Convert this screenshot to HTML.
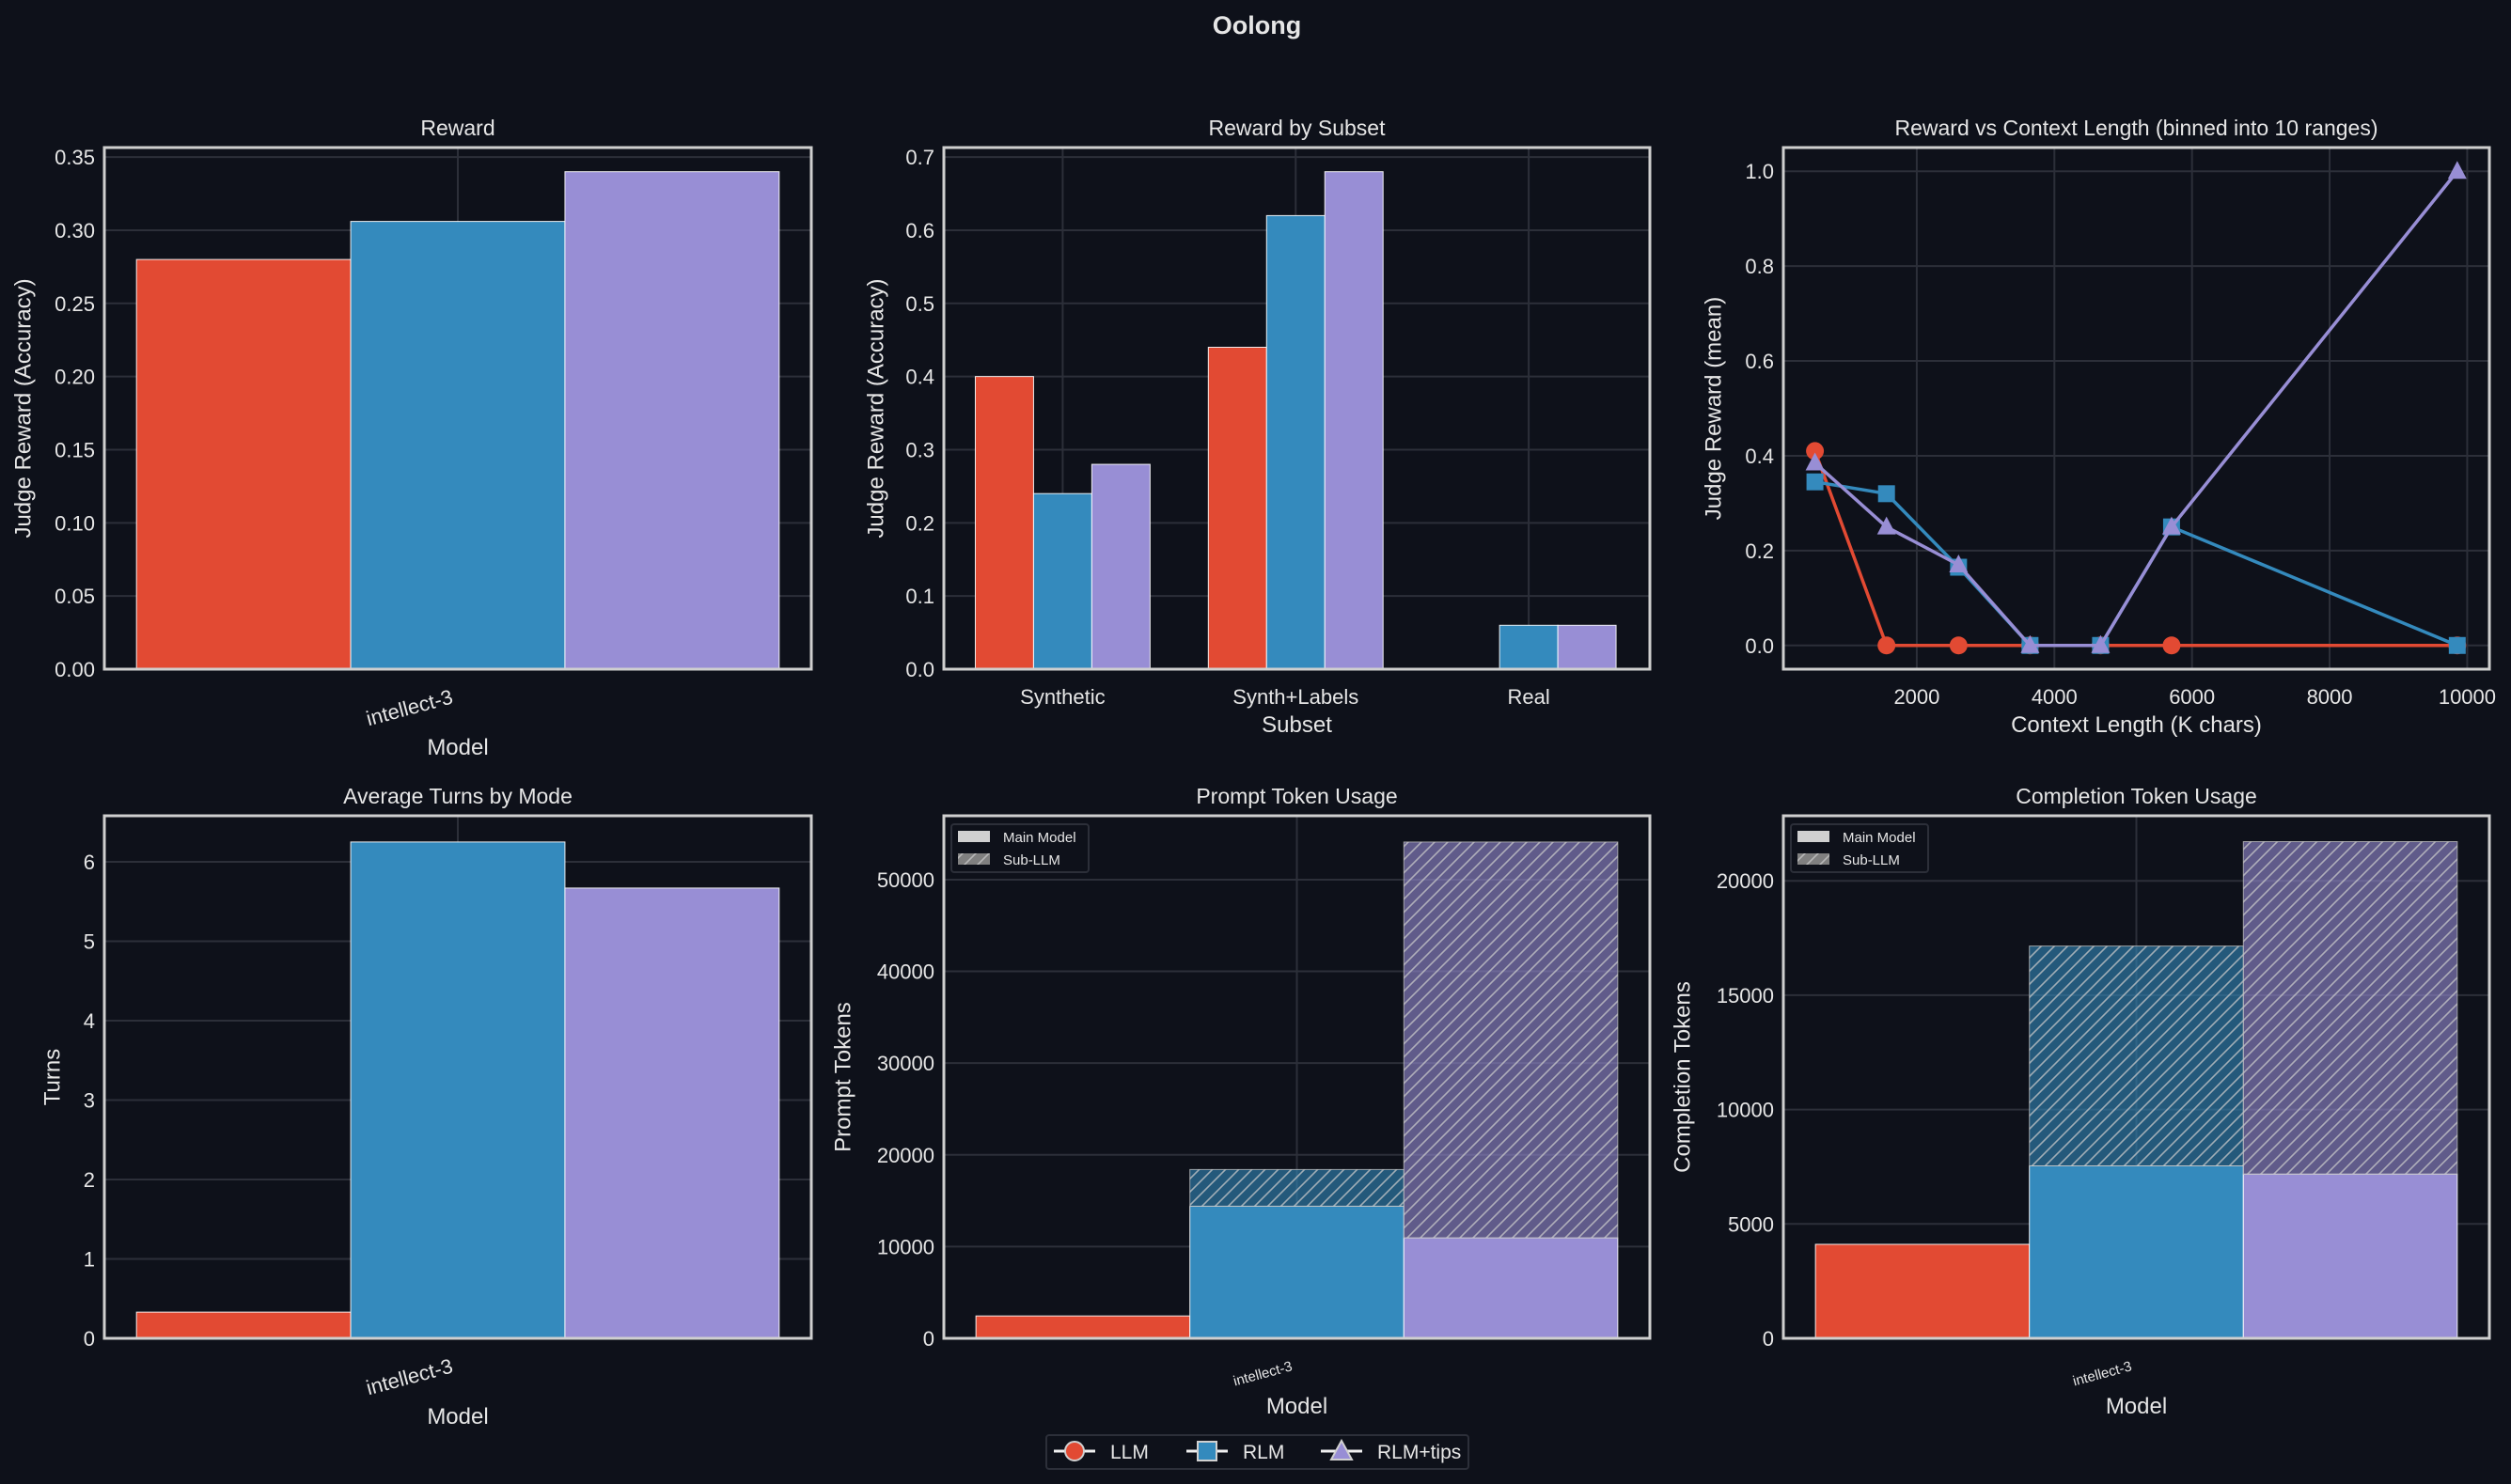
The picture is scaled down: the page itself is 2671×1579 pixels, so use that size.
<!DOCTYPE html>
<html><head><meta charset="utf-8"><style>
html,body{margin:0;padding:0;background:#0e111a;}
svg{display:block;font-family:"Liberation Sans",Arial,sans-serif;}
</style></head><body>
<svg id="fig" width="2671" height="1579" viewBox="0 0 2671 1579" xmlns="http://www.w3.org/2000/svg">
<defs>
<pattern id="hatch" patternUnits="userSpaceOnUse" width="14" height="14">
<path d="M-2,16 L16,-2 M-2,2 L2,-2 M12,16 L16,12" stroke="#c9c9c9" stroke-opacity="0.75" stroke-width="1.6"/>
</pattern>
</defs>
<rect width="2671" height="1579" fill="#0e111a"/>
<text x="1337" y="36" text-anchor="middle" font-size="27" font-weight="bold" fill="#e6e6e6">Oolong</text>
</svg>
<script>
// ---- data ----
const modes = ["LLM", "RLM", "RLM+tips"];
const colors = ["#E24A33", "#348ABD", "#988ED5"];
const rewardValues = [0.28, 0.306, 0.34];
const rewardTicks = [0, 0.05, 0.10, 0.15, 0.20, 0.25, 0.30, 0.35];
const subsets = ["Synthetic", "Synth+Labels", "Real"];
const subsetLLM = [0.40, 0.44, 0.0];
const subsetRLM = [0.24, 0.62, 0.06];
const subsetTips = [0.28, 0.68, 0.06];
const subsetTicks = [0, 0.1, 0.2, 0.3, 0.4, 0.5, 0.6, 0.7];
const ctxX = [520, 1560, 2607, 3646, 4671, 5703, 9855];
const ctxLLM = [0.41, 0, 0, 0, 0, 0, 0];
const ctxRLM = [0.345, 0.32, 0.165, 0, 0, 0.25, 0];
const ctxTips = [0.385, 0.25, 0.17, 0, 0, 0.25, 1.0];
const ctxXTicks = [2000, 4000, 6000, 8000, 10000];
const ctxYTicks = [0.0, 0.2, 0.4, 0.6, 0.8, 1.0];
const turnsValues = [0.33, 6.25, 5.67];
const turnsTicks = [0, 1, 2, 3, 4, 5, 6];
const promptMain = [2440, 14400, 10950];
const promptSub = [0, 4000, 43150];
const promptTicks = [0, 10000, 20000, 30000, 40000, 50000];
const complMain = [4110, 7540, 7180];
const complSub = [0, 9610, 14535];
const complTicks = [0, 5000, 10000, 15000, 20000];

const NS = "http://www.w3.org/2000/svg";
const svg = document.getElementById("fig");
function el(tag, attrs, parent, text) {
  const e = document.createElementNS(NS, tag);
  for (const k in attrs) e.setAttribute(k, attrs[k]);
  if (text !== undefined) e.textContent = text;
  (parent || svg).appendChild(e);
  return e;
}
function lin(d0, d1, r0, r1) { return v => r0 + (v - d0) / (d1 - d0) * (r1 - r0); }

function panel(name, box, xdom, ydom, title, xlabel, ylabel, ylabX, xlabY) {
  const g = el("g", {});
  
  
  const xs = lin(xdom[0], xdom[1], box.l, box.r);
  const ys = lin(ydom[0], ydom[1], box.b, box.t);
  el("rect", {x: box.l, y: box.t, width: box.r - box.l, height: box.b - box.t, fill: "#0e111a"}, g);
  const grid = el("g", {}, g);
  
  
  const marks = el("g", {}, g);
  
  
  const t = el("text", {x: (box.l + box.r) / 2, y: box.t - 13, "text-anchor": "middle", "font-size": 23, fill: "#e6e6e6"}, g, title);
  
  
  const xl = el("text", {x: (box.l + box.r) / 2, y: xlabY, "text-anchor": "middle", "font-size": 24, fill: "#e6e6e6"}, g, xlabel);
  
  
  const cy = (box.t + box.b) / 2;
  const yl = el("text", {x: ylabX, y: cy, "text-anchor": "middle", "font-size": 24, fill: "#e6e6e6", transform: `rotate(-90 ${ylabX} ${cy})`, "dominant-baseline": "central"}, g, ylabel);
  
  
  return {g, grid, marks, xs, ys, box};
}
function yTicks(p, ticks, fmt) {
  ticks.forEach(v => {
    const y = p.ys(v);
    el("line", {x1: p.box.l, x2: p.box.r, y1: y, y2: y, stroke: "#2c2f39", "stroke-width": 2}, p.grid);
    const tx = el("text", {x: p.box.l - 10, y: y + 8, "text-anchor": "end", "font-size": 22, fill: "#e6e6e6"}, p.g, fmt(v));
    
    
  });
}
function xGrid(p, x) {
  el("line", {x1: x, x2: x, y1: p.box.t, y2: p.box.b, stroke: "#2c2f39", "stroke-width": 2}, p.grid);
}
function spine(p) {
  const s = el("rect", {x: p.box.l, y: p.box.t, width: p.box.r - p.box.l, height: p.box.b - p.box.t, fill: "none", stroke: "#cfcfcf", "stroke-width": 3}, p.g);
  
  
}
function bar(p, x0, x1, v0, v1, color, name, hatched) {
  const y0 = p.ys(v0), y1 = p.ys(v1);
  const r = el("rect", {x: p.xs(x0), y: Math.min(y0, y1), width: p.xs(x1) - p.xs(x0), height: Math.abs(y0 - y1), fill: color, stroke: hatched ? "#bdbdbd" : "#ffffff", "stroke-width": 1, "stroke-opacity": hatched ? 0.8 : 0.9, "fill-opacity": hatched ? 0.6 : 1}, p.marks);
  
  
  if (hatched) {
    const h = el("rect", {x: p.xs(x0), y: Math.min(y0, y1), width: p.xs(x1) - p.xs(x0), height: Math.abs(y0 - y1), fill: "url(#hatch)"}, p.marks);
    
    
  }
}
function rotLabel(p, text, size, yTop) {
  const x = p.xs(0) - 4, y = yTop;
  const tx = el("text", {x: x, y: y, "text-anchor": "end", "font-size": size, fill: "#e6e6e6", transform: `rotate(-15 ${x} ${y})`}, p.g, text);
  
  
}
const bw = 0.8 / 3;
function fmt2(v) { return v.toFixed(2); }
function fmt1(v) { return v.toFixed(1); }
function fmt0(v) { return String(v); }

// ---- Panel 1: Reward ----
{
  const p = panel("reward-panel", {l: 111, r: 863, t: 157, b: 712}, [-0.44, 0.44], [0, 0.3565], "Reward", "Model", "Judge Reward (Accuracy)", 25, 803);
  yTicks(p, rewardTicks, fmt2); xGrid(p, p.xs(0));
  rewardValues.forEach((v, i) => bar(p, -0.4 + i * bw, -0.4 + (i + 1) * bw, 0, v, colors[i], "bar-reward-" + modes[i].toLowerCase().replace('+', '-')));
  spine(p); rotLabel(p, "intellect-3", 22, 748);
}
// ---- Panel 2: Reward by Subset ----
{
  const p = panel("reward-by-subset-panel", {l: 1004, r: 1755, t: 157, b: 712}, [-0.51, 2.52], [0, 0.713], "Reward by Subset", "Subset", "Judge Reward (Accuracy)", 932, 779);
  yTicks(p, subsetTicks, fmt1);
  const series = [subsetLLM, subsetRLM, subsetTips];
  subsets.forEach((s, c) => {
    xGrid(p, p.xs(c));
    const tx = el("text", {x: p.xs(c), y: 749, "text-anchor": "middle", "font-size": 22, fill: "#e6e6e6"}, p.g, s);
    
    
  });
  series.forEach((arr, i) => arr.forEach((v, c) => {
    if (v > 0) bar(p, c + (i - 1) * 0.25 - 0.125, c + (i - 1) * 0.25 + 0.125, 0, v, colors[i], "bar-" + subsets[c].toLowerCase().replace('+', '-') + "-" + modes[i].toLowerCase().replace('+', '-'));
  }));
  spine(p);
}
// ---- Panel 3: Reward vs Context Length ----
{
  const p = panel("reward-vs-context-panel", {l: 1897, r: 2648, t: 157, b: 712}, [61, 10322], [-0.05, 1.05], "Reward vs Context Length (binned into 10 ranges)", "Context Length (K chars)", "Judge Reward (mean)", 1823, 779);
  yTicks(p, ctxYTicks, fmt1);
  ctxXTicks.forEach(v => {
    xGrid(p, p.xs(v));
    const tx = el("text", {x: p.xs(v), y: 749, "text-anchor": "middle", "font-size": 22, fill: "#e6e6e6"}, p.g, String(v));
    
    
  });
  const series = [ctxLLM, ctxRLM, ctxTips];
  series.forEach((arr, i) => {
    const pts = arr.map((v, k) => p.xs(ctxX[k]) + "," + p.ys(v)).join(" ");
    const l = el("polyline", {points: pts, fill: "none", stroke: colors[i], "stroke-width": 3.5}, p.marks);
    
    
    arr.forEach((v, k) => {
      const x = p.xs(ctxX[k]), y = p.ys(v);
      let m;
      if (i === 0) m = el("circle", {cx: x, cy: y, r: 9.5, fill: colors[i]}, p.marks);
      else if (i === 1) m = el("rect", {x: x - 9, y: y - 9, width: 18, height: 18, fill: colors[i]}, p.marks);
      else m = el("polygon", {points: `${x},${y - 11} ${x - 10},${y + 8} ${x + 10},${y + 8}`, fill: colors[i]}, p.marks);
      
      
    });
  });
  spine(p);
}
// ---- Panel 4: Average Turns ----
{
  const p = panel("average-turns-panel", {l: 111, r: 863, t: 868, b: 1424}, [-0.44, 0.44], [0, 6.58], "Average Turns by Mode", "Model", "Turns", 56, 1515);
  yTicks(p, turnsTicks, fmt0); xGrid(p, p.xs(0));
  turnsValues.forEach((v, i) => bar(p, -0.4 + i * bw, -0.4 + (i + 1) * bw, 0, v, colors[i], "bar-turns-" + modes[i].toLowerCase().replace('+', '-')));
  spine(p); rotLabel(p, "intellect-3", 22, 1460);
}
function smallLegend(p) {
  const g = el("g", {}, p.g);
  
  
  const x = p.box.l + 8, y = p.box.t + 9;
  el("rect", {x: x, y: y, width: 146, height: 51, rx: 3, fill: "#0e111a", stroke: "#2c2f39", "stroke-width": 2}, g);
  el("rect", {x: x + 7, y: y + 7, width: 34, height: 12, fill: "#d0d0d0"}, g);
  el("rect", {x: x + 7, y: y + 31, width: 34, height: 12, fill: "#808080"}, g);
  el("rect", {x: x + 7, y: y + 31, width: 34, height: 12, fill: "url(#hatch)"}, g);
  const a = el("text", {x: x + 55, y: y + 19, "font-size": 15, fill: "#e6e6e6"}, g, "Main Model");
  
  
  const b = el("text", {x: x + 55, y: y + 43, "font-size": 15, fill: "#e6e6e6"}, g, "Sub-LLM");
  
  
}
// ---- Panel 5: Prompt Token Usage ----
{
  const p = panel("prompt-token-panel", {l: 1004, r: 1755, t: 868, b: 1424}, [-0.44, 0.44], [0, 56960], "Prompt Token Usage", "Model", "Prompt Tokens", 897, 1504);
  yTicks(p, promptTicks, fmt0); xGrid(p, p.xs(0));
  promptMain.forEach((v, i) => {
    bar(p, -0.4 + i * bw, -0.4 + (i + 1) * bw, 0, v, colors[i], "bar-prompt-main-" + modes[i].toLowerCase().replace('+', '-'));
    if (promptSub[i] > 0) bar(p, -0.4 + i * bw, -0.4 + (i + 1) * bw, v, v + promptSub[i], colors[i], "bar-prompt-sub-" + modes[i].toLowerCase().replace('+', '-'), true);
  });
  spine(p); smallLegend(p); rotLabel(p, "intellect-3", 15, 1458);
}
// ---- Panel 6: Completion Token Usage ----
{
  const p = panel("completion-token-panel", {l: 1897, r: 2648, t: 868, b: 1424}, [-0.44, 0.44], [0, 22845], "Completion Token Usage", "Model", "Completion Tokens", 1790, 1504);
  yTicks(p, complTicks, fmt0); xGrid(p, p.xs(0));
  complMain.forEach((v, i) => {
    bar(p, -0.4 + i * bw, -0.4 + (i + 1) * bw, 0, v, colors[i], "bar-completion-main-" + modes[i].toLowerCase().replace('+', '-'));
    if (complSub[i] > 0) bar(p, -0.4 + i * bw, -0.4 + (i + 1) * bw, v, v + complSub[i], colors[i], "bar-completion-sub-" + modes[i].toLowerCase().replace('+', '-'), true);
  });
  spine(p); smallLegend(p); rotLabel(p, "intellect-3", 15, 1458);
}
// ---- Figure legend ----
{
  const g = el("g", {});
  
  
  el("rect", {x: 1113, y: 1527, width: 449, height: 36, rx: 3, fill: "#0e111a", stroke: "#2c2f39", "stroke-width": 2}, g);
  const xs = [1143, 1284, 1427];
  modes.forEach((m, i) => {
    const x = xs[i], y = 1544;
    el("line", {x1: x - 22, x2: x + 22, y1: y, y2: y, stroke: "#f0f0f0", "stroke-width": 3}, g);
    if (i === 0) el("circle", {cx: x, cy: y, r: 10, fill: colors[i], stroke: "#d0d0d0", "stroke-width": 2}, g);
    else if (i === 1) el("rect", {x: x - 10, y: y - 10, width: 20, height: 20, fill: colors[i], stroke: "#d0d0d0", "stroke-width": 2}, g);
    else el("polygon", {points: `${x},${y - 11} ${x - 11},${y + 9} ${x + 11},${y + 9}`, fill: colors[i], stroke: "#d0d0d0", "stroke-width": 2}, g);
    const t = el("text", {x: x + 38, y: y + 8, "font-size": 21, fill: "#e6e6e6"}, g, m);
    
    
  });
}
</script>
</body></html>
